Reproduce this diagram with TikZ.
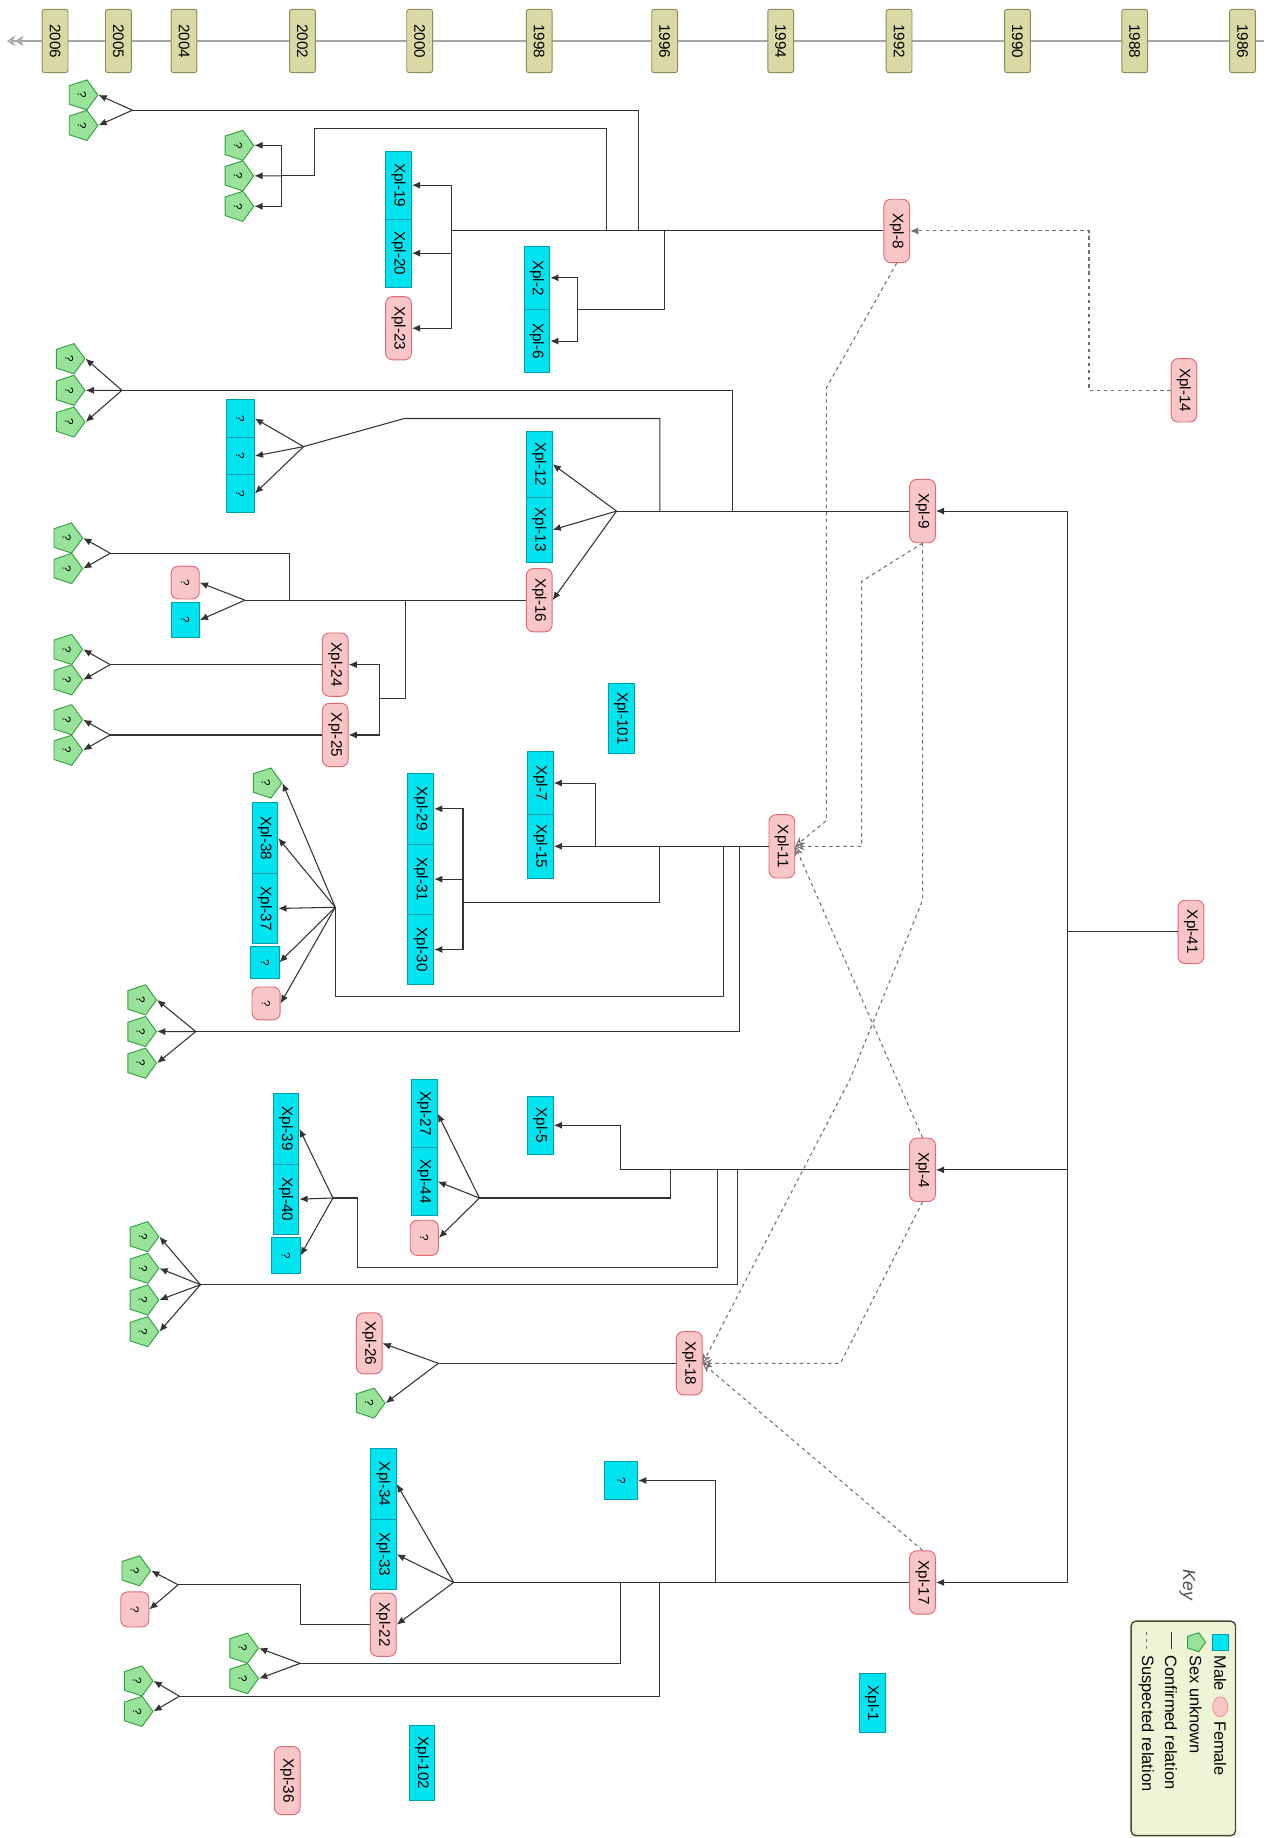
\documentclass[tikz,border=0pt]{standalone}
\usepackage{fontspec}
\usepackage{graphicx}
\setmainfont{Liberation Sans}
\usetikzlibrary{shapes.geometric,arrows.meta}
\definecolor{femF}{HTML}{F9C6C8}
\definecolor{femB}{HTML}{E06A72}
\definecolor{malF}{HTML}{00E4F0}
\definecolor{malB}{HTML}{009FB0}
\definecolor{unkF}{HTML}{98E29A}
\definecolor{unkB}{HTML}{34A040}
\definecolor{yrF}{HTML}{D9D9A6}
\definecolor{yrB}{HTML}{8E8E58}
\definecolor{lineC}{HTML}{333333}
\definecolor{susC}{HTML}{707070}
\definecolor{keyF}{HTML}{EEF5D6}
\definecolor{keyB}{HTML}{4A4A30}
\newcommand{\vtx}[1]{\rotatebox{-90}{#1}}
\newcommand{\lblfont}{\fontsize{13}{15}\selectfont}
\newcommand{\qfont}{\fontsize{10}{12}\selectfont}
\newcommand{\lgdfont}{\fontsize{14}{16}\selectfont}
\tikzset{
  fem/.style={draw=femB, fill=femF, line width=0.8pt, rounded corners=6pt, minimum width=22pt, minimum height=54pt, inner sep=0pt, font=\lblfont},
  mal/.style={draw=malB, fill=malF, line width=0.8pt, minimum width=22pt, minimum height=58pt, inner sep=0pt, font=\lblfont},
  unk/.style={regular polygon, regular polygon sides=5, shape border rotate=-90, minimum size=27pt, draw=unkB, fill=unkF, line width=0.8pt, inner sep=0pt, font=\qfont},
  qfem/.style={fem, minimum width=24pt, minimum height=28pt, font=\qfont},
  qmal/.style={mal, minimum width=24pt, minimum height=30pt, font=\qfont},
  yr/.style={draw=yrB, fill=yrF, line width=0.8pt, rounded corners=2pt, minimum width=22pt, minimum height=54pt, inner sep=0pt, font=\lblfont},
  conn/.style={draw=lineC, line width=0.9pt},
  arr/.style={conn, -{Latex[length=7pt,width=6pt]}},
  sus/.style={draw=susC, line width=0.9pt, dash pattern=on 3pt off 3pt},
  susarr/.style={sus, -{Stealth[open,length=8pt,width=7pt]}},
  susfill/.style={sus, -{Latex[length=7pt,width=6pt]}}
}
\begin{document}
\begin{tikzpicture}[x=1pt,y=-1pt]
\useasboundingbox (0,0) rectangle (1086,1568);
\fill[white] (0,0) rectangle (1086,1568);

% ---------- timeline ----------
\draw[draw=black!35, line width=2.5pt, {Stealth[open,length=7pt,width=9pt]Stealth[open,length=7pt,width=9pt]}-] (6,35) -- (1078,35);
\foreach \x/\yy [count=\i] in {47/2006,101/2005,157/2004,258/2002,358/2000,460/1998,567/1996,666/1994,767/1992,868/1990,968/1988,1060/1986}
  \node[yr] (yr\i) at (\x,35) {\vtx{\yy}};

% ---------- main people ----------
\node[fem] (n8)  at (765,197)  {\vtx{Xpl-8}};
\node[fem] (n14) at (1010,333) {\vtx{Xpl-14}};
\node[fem] (n9)  at (787,436)  {\vtx{Xpl-9}};
\node[fem] (n11) at (667,722)  {\vtx{Xpl-11}};
\node[fem] (n41) at (1016,795) {\vtx{Xpl-41}};
\node[fem] (n4)  at (787,998)  {\vtx{Xpl-4}};
\node[fem] (n18) at (588,1163) {\vtx{Xpl-18}};
\node[fem] (n17) at (787,1350) {\vtx{Xpl-17}};

% ---------- group A (Xpl-8) ----------
\node[unk] (a1) at (70,81)  {\vtx{?}};
\node[unk] (a2) at (70,107) {\vtx{?}};
\node[unk] (a3) at (203,124) {\vtx{?}};
\node[unk] (a4) at (203,150) {\vtx{?}};
\node[unk] (a5) at (203,176) {\vtx{?}};
\node[mal] (a6) at (340,158) {\vtx{Xpl-19}};
\node[mal] (a7) at (340,216) {\vtx{Xpl-20}};
\node[fem] (a8) at (340,280) {\vtx{Xpl-23}};
\node[mal, minimum height=54pt] (a9)  at (458,237) {\vtx{Xpl-2}};
\node[mal, minimum height=54pt] (a10) at (458,291) {\vtx{Xpl-6}};
\coordinate (kA)  at (385,197);
\coordinate (fa1) at (113,94);
\coordinate (kA2) at (240,150);
\coordinate (kA3) at (493,264);
\draw[conn] (n8.west) -- (kA);
\draw[arr] (kA) |- (a6.east);
\draw[arr] (kA) |- (a7.east);
\draw[arr] (kA) |- (a8.east);
\draw[conn] (545,197) -- (545,94) -- (fa1);
\draw[arr] (fa1) -- (a1.east);
\draw[arr] (fa1) -- (a2.east);
\draw[conn] (517,197) -- (517,110) -- (268,110) -- (268,150) -- (kA2);
\draw[arr] (kA2) |- (a3.east);
\draw[arr] (kA2) -- (a4.east);
\draw[arr] (kA2) |- (a5.east);
\draw[conn] (567,197) -- (567,264) -- (kA3);
\draw[arr] (kA3) |- (a9.east);
\draw[arr] (kA3) |- (a10.east);
\draw[susfill] (n14.west) -- (929,333) -- (929,197) -- (n8.east);

% ---------- main vertical from Xpl-41 ----------
\coordinate (v1) at (911,436);
\coordinate (v2) at (911,795);
\coordinate (v3) at (911,998);
\coordinate (v4) at (911,1350);
\draw[conn] (n41.west) -- (v2);
\draw[conn] (v1) -- (v4);
\draw[arr] (v1) -- (n9.east);
\draw[arr] (v3) -- (n4.east);
\draw[arr] (v4) -- (n17.east);

% ---------- group B (Xpl-9) ----------
\node[unk] (b1) at (59,306) {\vtx{?}};
\node[unk] (b2) at (59,333) {\vtx{?}};
\node[unk] (b3) at (59,360) {\vtx{?}};
\node[qmal, minimum height=32pt] (b4) at (205,357) {\vtx{?}};
\node[qmal, minimum height=32pt] (b5) at (205,389) {\vtx{?}};
\node[qmal, minimum height=32pt] (b6) at (205,421) {\vtx{?}};
\node[mal, minimum height=56pt] (b7) at (460,396) {\vtx{Xpl-12}};
\node[mal, minimum height=56pt] (b8) at (460,452) {\vtx{Xpl-13}};
\node[fem] (b9) at (460,512) {\vtx{Xpl-16}};
\node[qfem] (b10) at (158,497) {\vtx{?}};
\node[qmal] (b11) at (158,529) {\vtx{?}};
\node[unk] (b12) at (57,459) {\vtx{?}};
\node[unk] (b13) at (57,485) {\vtx{?}};
\node[fem] (b14) at (286,567) {\vtx{Xpl-24}};
\node[fem] (b15) at (286,627) {\vtx{Xpl-25}};
\node[unk] (b16) at (57,554) {\vtx{?}};
\node[unk] (b17) at (57,580) {\vtx{?}};
\node[unk] (b18) at (57,614) {\vtx{?}};
\node[unk] (b19) at (57,640) {\vtx{?}};
\coordinate (kB)  at (526,436);
\coordinate (fb1) at (104,333);
\coordinate (fb2) at (259,381);
\coordinate (kB2) at (209,512);
\coordinate (fb3) at (94,472);
\coordinate (kB3) at (324,596);
\coordinate (fb4) at (94,567);
\coordinate (fb5) at (94,627);
\draw[conn] (n9.west) -- (kB);
\draw[arr] (kB) -- (b7.east);
\draw[arr] (kB) -- (b8.east);
\draw[arr] (kB) -- (b9.east);
\draw[conn] (625,436) -- (625,333) -- (fb1);
\draw[arr] (fb1) -- (b1.east);
\draw[arr] (fb1) -- (b2.east);
\draw[arr] (fb1) -- (b3.east);
\draw[conn] (563,436) -- (563,357) -- (345,357) -- (fb2);
\draw[arr] (fb2) -- (b4.east);
\draw[arr] (fb2) -- (b5.east);
\draw[arr] (fb2) -- (b6.east);
\draw[conn] (b9.west) -- (kB2);
\draw[arr] (kB2) -- (b10.east);
\draw[arr] (kB2) -- (b11.east);
\draw[conn] (247,512) -- (247,472) -- (fb3);
\draw[arr] (fb3) -- (b12.east);
\draw[arr] (fb3) -- (b13.east);
\draw[conn] (346,512) -- (346,596) -- (kB3);
\draw[arr] (kB3) |- (b14.east);
\draw[arr] (kB3) |- (b15.east);
\draw[conn] (b14.west) -- (fb4);
\draw[arr] (fb4) -- (b16.east);
\draw[arr] (fb4) -- (b17.east);
\draw[conn] (b15.west) -- (fb5);
\draw[arr] (fb5) -- (b18.east);
\draw[arr] (fb5) -- (b19.east);

\node[mal, minimum height=60pt] (x101) at (530,613) {\vtx{Xpl-101}};

% ---------- group C (Xpl-11) ----------
\node[mal, minimum height=54pt] (c1) at (461,668) {\vtx{Xpl-7}};
\node[mal, minimum height=54pt] (c2) at (461,722) {\vtx{Xpl-15}};
\node[mal, minimum height=60pt] (c3) at (359,690) {\vtx{Xpl-29}};
\node[mal, minimum height=60pt] (c4) at (359,750) {\vtx{Xpl-31}};
\node[mal, minimum height=60pt] (c5) at (359,810) {\vtx{Xpl-30}};
\node[unk] (c6) at (227,668) {\vtx{?}};
\node[mal, minimum height=60pt] (c7) at (226,715) {\vtx{Xpl-38}};
\node[mal, minimum height=60pt] (c8) at (226,775) {\vtx{Xpl-37}};
\node[qmal, minimum height=28pt] (c9) at (226,821) {\vtx{?}};
\node[qfem] (c10) at (227,856) {\vtx{?}};
\node[unk] (c11) at (120,853) {\vtx{?}};
\node[unk] (c12) at (120,880) {\vtx{?}};
\node[unk] (c13) at (120,907) {\vtx{?}};
\coordinate (kC)  at (508,722);
\coordinate (kC2) at (395,770);
\coordinate (fc1) at (286,774);
\coordinate (fc2) at (167,880);
\draw[conn] (n11.west) -- (kC);
\draw[arr] (kC) |- (c1.east);
\draw[arr] (kC) -- (c2.east);
\draw[conn] (563,722) -- (563,770) -- (kC2);
\draw[arr] (kC2) |- (c3.east);
\draw[arr] (kC2) |- (c4.east);
\draw[arr] (kC2) |- (c5.east);
\draw[conn] (617,722) -- (617,850) -- (286,850) -- (fc1);
\draw[arr] (fc1) -- (c6.east);
\draw[arr] (fc1) -- (c7.east);
\draw[arr] (fc1) -- (c8.east);
\draw[arr] (fc1) -- (c9.east);
\draw[arr] (fc1) -- (c10.east);
\draw[conn] (631,722) -- (631,880) -- (fc2);
\draw[arr] (fc2) -- (c11.east);
\draw[arr] (fc2) -- (c12.east);
\draw[arr] (fc2) -- (c13.east);

% ---------- group D (Xpl-4) ----------
\node[mal, minimum height=50pt] (d1) at (461,960) {\vtx{Xpl-5}};
\node[mal, minimum height=58pt] (d2) at (362,950) {\vtx{Xpl-27}};
\node[mal, minimum height=58pt] (d3) at (362,1008) {\vtx{Xpl-44}};
\node[qfem, minimum height=30pt] (d4) at (362,1056) {\vtx{?}};
\node[mal, minimum height=60pt] (d5) at (244,963) {\vtx{Xpl-39}};
\node[mal, minimum height=60pt] (d6) at (244,1023) {\vtx{Xpl-40}};
\node[qmal] (d7) at (244,1071) {\vtx{?}};
\node[unk] (d8)  at (122,1055) {\vtx{?}};
\node[unk] (d9)  at (122,1082) {\vtx{?}};
\node[unk] (d10) at (122,1109) {\vtx{?}};
\node[unk] (d11) at (122,1136) {\vtx{?}};
\coordinate (kD)  at (529,998);
\coordinate (fd1) at (409,1022);
\coordinate (fd2) at (284,1022);
\coordinate (fd3) at (171,1096);
\draw[conn] (n4.west) -- (kD);
\draw[arr] (kD) |- (d1.east);
\draw[conn] (572,998) -- (572,1022) -- (fd1);
\draw[arr] (fd1) -- (d2.east);
\draw[arr] (fd1) -- (d3.east);
\draw[arr] (fd1) -- (d4.east);
\draw[conn] (612,998) -- (612,1081) -- (305,1081) -- (305,1022) -- (fd2);
\draw[arr] (fd2) -- (d5.east);
\draw[arr] (fd2) -- (d6.east);
\draw[arr] (fd2) -- (d7.east);
\draw[conn] (629,998) -- (629,1096) -- (fd3);
\draw[arr] (fd3) -- (d8.east);
\draw[arr] (fd3) -- (d9.east);
\draw[arr] (fd3) -- (d10.east);
\draw[arr] (fd3) -- (d11.east);

% ---------- group E (Xpl-18) ----------
\node[fem, minimum height=52pt] (e1) at (315,1146) {\vtx{Xpl-26}};
\node[unk] (e2) at (315,1197) {\vtx{?}};
\coordinate (fe) at (374,1163);
\draw[conn] (n18.west) -- (fe);
\draw[arr] (fe) -- (e1.east);
\draw[arr] (fe) -- (e2.east);

% ---------- group F (Xpl-17) ----------
\node[mal, minimum height=60pt] (f1) at (327,1266) {\vtx{Xpl-34}};
\node[mal, minimum height=60pt] (f2) at (327,1326) {\vtx{Xpl-33}};
\node[fem] (f3) at (327,1386) {\vtx{Xpl-22}};
\node[qmal, minimum width=28pt, minimum height=32pt] (f4) at (530,1263) {\vtx{?}};
\node[unk] (f5) at (117,1434) {\vtx{?}};
\node[unk] (f6) at (117,1460) {\vtx{?}};
\node[unk] (f7) at (207,1406) {\vtx{?}};
\node[unk] (f8) at (207,1432) {\vtx{?}};
\node[unk] (f9) at (115,1340) {\vtx{?}};
\node[qfem, minimum height=30pt] (f10) at (115,1373) {\vtx{?}};
\coordinate (kF)  at (387,1350);
\coordinate (ff1) at (153,1447);
\coordinate (ff2) at (256,1419);
\coordinate (ff3) at (152,1352);
\draw[conn] (n17.west) -- (kF);
\draw[arr] (kF) -- (f1.east);
\draw[arr] (kF) -- (f2.east);
\draw[arr] (kF) -- (f3.east);
\draw[arr] (610,1350) -- (610,1263) -- (f4.east);
\draw[conn] (563,1350) -- (563,1447) -- (ff1);
\draw[arr] (ff1) -- (f5.east);
\draw[arr] (ff1) -- (f6.east);
\draw[conn] (529,1350) -- (529,1419) -- (ff2);
\draw[arr] (ff2) -- (f7.east);
\draw[arr] (ff2) -- (f8.east);
\draw[conn] (f3.west) -- (256,1386) -- (256,1352) -- (ff3);
\draw[arr] (ff3) -- (f9.east);
\draw[arr] (ff3) -- (f10.east);

% ---------- free nodes ----------
\node[mal, minimum height=50pt] (g1) at (744,1453) {\vtx{Xpl-1}};
\node[mal, minimum height=64pt] (g2) at (360,1504) {\vtx{Xpl-102}};
\node[fem, minimum height=58pt] (g3) at (245,1519) {\vtx{Xpl-36}};

% ---------- suspected relations ----------
\draw[susarr] (n8.south) -- (705,331) -- (705,700) -- (n11.east);
\draw[susarr] (n9.south) -- (735,496) -- (735,722) -- (n11.east);
\draw[susarr] (n4.north) -- (n11.east);
\draw[susarr] (n9.south) -- (787,768) -- (725,921) -- (n18.east);
\draw[susarr] (n4.south) -- (717,1163) -- (n18.east);
\draw[susarr] (n17.north) -- (n18.east);

% ---------- key ----------
\node[text=black!70, font=\fontsize{15}{17}\selectfont] (keyt) at (1013,1352) {\vtx{\itshape Key}};
\node[draw=keyB, fill=keyF, line width=1.2pt, rounded corners=4pt, minimum width=89pt, minimum height=183pt] (key) at (1009.5,1474.5) {};
\node[draw=malB, fill=malF, minimum size=13pt, inner sep=0pt] (lm) at (1041,1401) {};
\node[anchor=north, font=\lgdfont, inner sep=0pt] (lmt) at (1041,1412) {\vtx{Male}};
\node[draw=femB, fill=femF, ellipse, minimum width=13pt, minimum height=17pt, inner sep=0pt] (lf) at (1041,1456) {};
\node[anchor=north, font=\lgdfont, inner sep=0pt] (lft) at (1041,1468) {\vtx{Female}};
\node[unk, minimum size=17pt] (lu) at (1020,1401) {};
\node[anchor=north, font=\lgdfont, inner sep=0pt] (lut) at (1020,1412) {\vtx{Sex unknown}};
\coordinate (lc1) at (999,1392);
\coordinate (lc2) at (999,1407);
\draw[conn] (lc1) -- (lc2);
\node[anchor=north, font=\lgdfont, inner sep=0pt] (lct) at (999,1412) {\vtx{Confirmed relation}};
\coordinate (ls1) at (978,1392);
\coordinate (ls2) at (978,1407);
\draw[sus] (ls1) -- (ls2);
\node[anchor=north, font=\lgdfont, inner sep=0pt] (lst) at (978,1412) {\vtx{Suspected relation}};
\end{tikzpicture}
\end{document}
